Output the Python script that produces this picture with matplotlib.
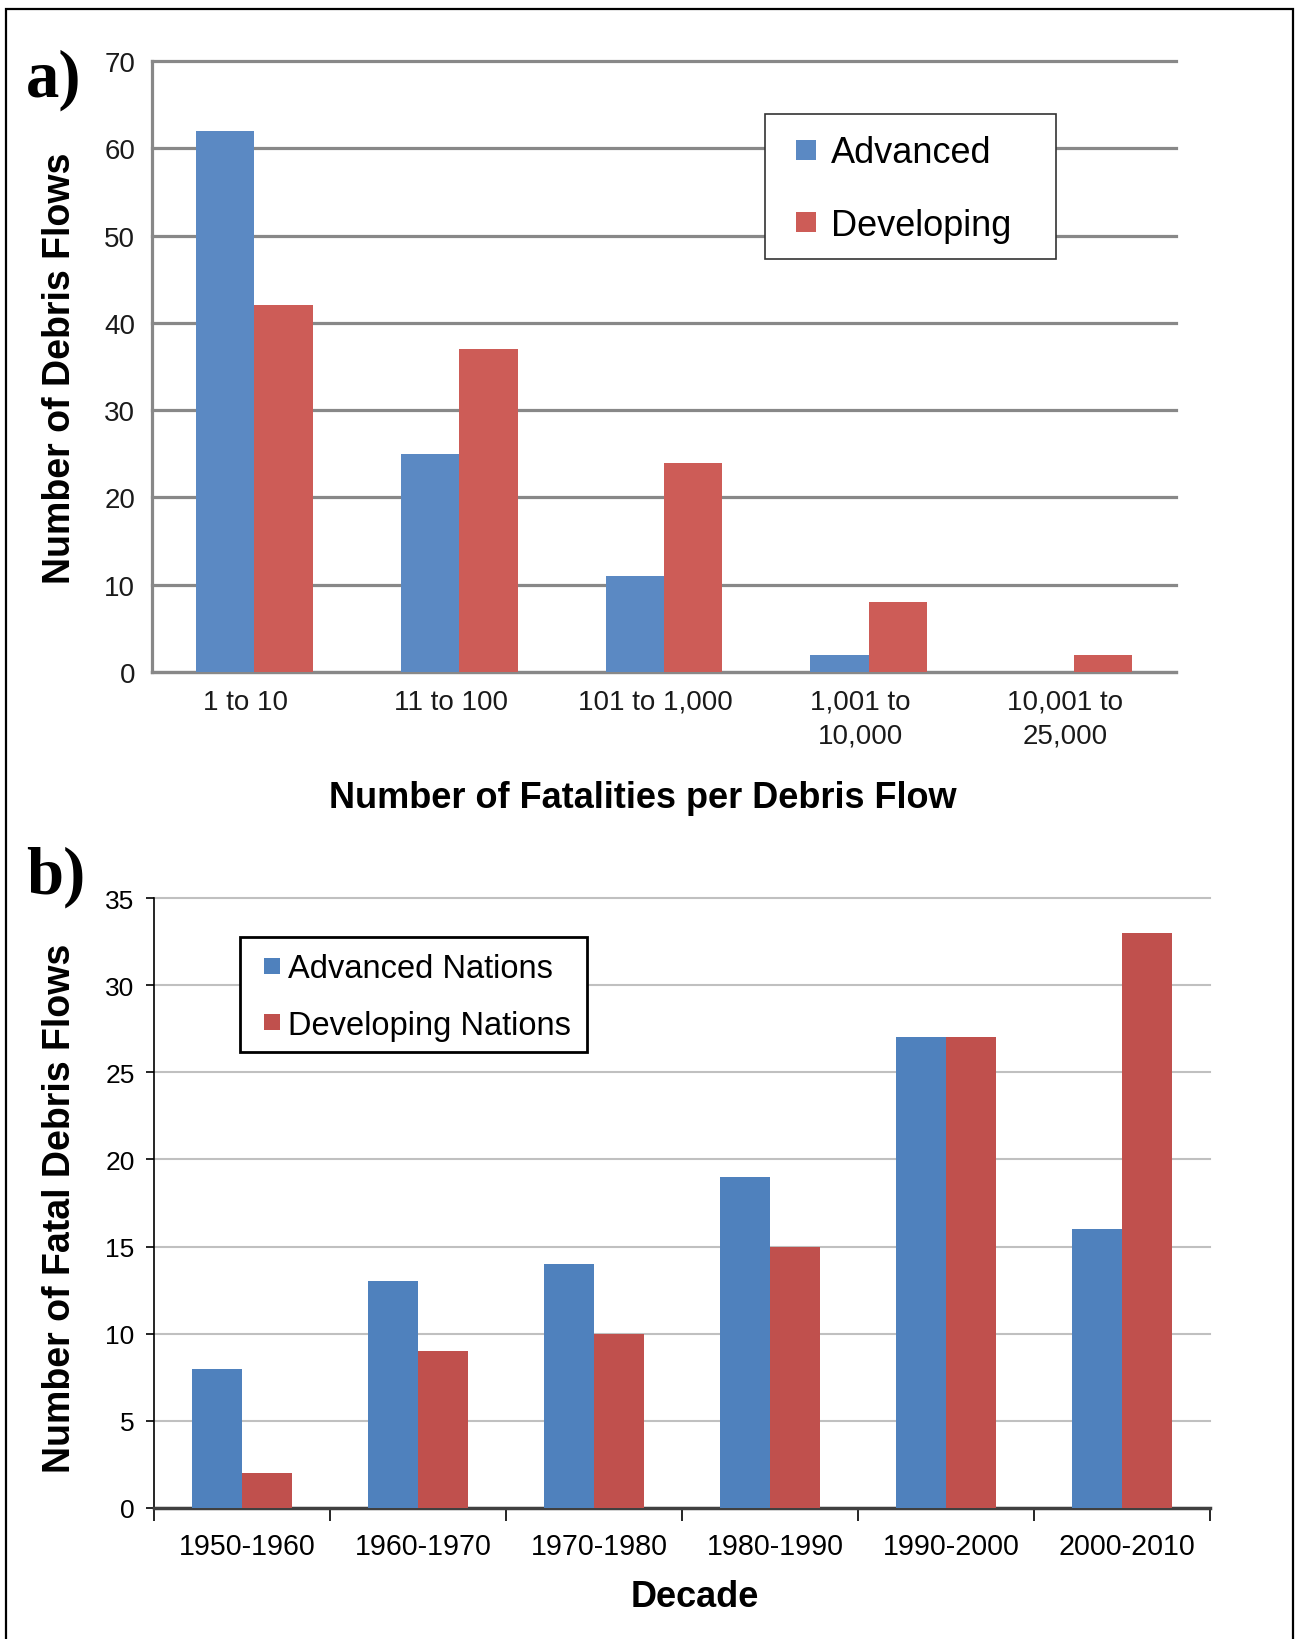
import matplotlib
matplotlib.use('Agg')
import matplotlib.pyplot as plt
import matplotlib.transforms as mtransforms
from matplotlib.patches import Rectangle
from matplotlib.lines import Line2D
import numpy as np

plt.rcParams['font.family'] = ['Liberation Sans', 'DejaVu Sans']

# ---------------- data ----------------
cats_a = ['1 to 10', '11 to 100', '101 to 1,000', '1,001 to\n10,000', '10,001 to\n25,000']
advanced_a = [62, 25, 11, 2, 0]
developing_a = [42, 37, 24, 8, 2]
yticks_a = [0, 10, 20, 30, 40, 50, 60, 70]

cats_b = ['1950-1960', '1960-1970', '1970-1980', '1980-1990', '1990-2000', '2000-2010']
advanced_b = [8, 13, 14, 19, 27, 16]
developing_b = [2, 9, 10, 15, 27, 33]
yticks_b = [0, 5, 10, 15, 20, 25, 30, 35]

# ---------------- layout helpers ----------------
W, H = 1301, 1640
fig = plt.figure(figsize=(W / 100, H / 100), dpi=100)


def fx(px):
    return px / W


def fy(py):
    return 1 - py / H


blue_a, red_a = '#5b89c3', '#cd5c57'
blue_b, red_b = '#4f81bd', '#c0504d'
bw = 0.285

# ---------------- panel a ----------------
a_l, a_r, a_t, a_b = 152, 1176, 62, 673
axa = fig.add_axes([fx(a_l), fy(a_b), (a_r - a_l) / W, (a_b - a_t) / H])
xa = np.arange(len(cats_a))
axa.bar(xa - bw / 2, advanced_a, bw, color=blue_a, zorder=3)
axa.bar(xa + bw / 2, developing_a, bw, color=red_a, zorder=3)
axa.set_xlim(-0.5, len(cats_a) - 0.5)
axa.set_ylim(0, 70)
axa.set_yticks(yticks_a)
axa.set_xticks(xa)
axa.set_xticklabels(cats_a, linespacing=1.38)
axa.set_axisbelow(True)
axa.yaxis.grid(True, color='#888888', lw=2.3)
for gl in axa.get_ygridlines():
    gl.set_clip_on(False)
for s in ['top', 'right']:
    axa.spines[s].set_visible(False)
for s in ['left', 'bottom']:
    axa.spines[s].set_color('#888888')
    axa.spines[s].set_linewidth(2.3)
axa.tick_params(axis='both', length=0, labelsize=20, colors='#1a1a1a')
axa.tick_params(axis='y', pad=12)
axa.tick_params(axis='x', pad=12)
shift_a = mtransforms.ScaledTranslation(-0.085, 0, fig.dpi_scale_trans)
for lab in axa.get_xticklabels():
    lab.set_transform(lab.get_transform() + shift_a)
axa.set_xlabel('Number of Fatalities per Debris Flow', fontsize=26, fontweight='bold')
axa.xaxis.set_label_coords((643 - a_l) / (a_r - a_l), (a_b - 808) / (a_b - a_t))
axa.xaxis.label.set_va('baseline')
axa.set_ylabel('Number of Debris Flows', fontsize=27, fontweight='bold')
axa.yaxis.set_label_coords((60 - a_l) / (a_r - a_l), (a_b - 368) / (a_b - a_t))
axa.yaxis.label.set_va('center')

# legend a
box_a = Rectangle((fx(765), fy(260)), fx(1056) - fx(765), fy(115) - fy(260),
                  transform=fig.transFigure, facecolor='white', edgecolor='#333333',
                  lw=1.2, zorder=4, clip_on=False)
axa.add_patch(box_a)
ha = [Line2D([], [], marker='s', ls='none', markersize=13.7, markerfacecolor=blue_a, markeredgewidth=0),
      Line2D([], [], marker='s', ls='none', markersize=13.7, markerfacecolor=red_a, markeredgewidth=0)]
lega = axa.legend(ha, ['Advanced', 'Developing'], loc='center left',
                  bbox_to_anchor=(fx(795), fy(190)), bbox_transform=fig.transFigure,
                  borderpad=0, borderaxespad=0, frameon=False, handlelength=0.6,
                  handletextpad=0.4, labelspacing=1.04, fontsize=26)
lega.set_zorder(5)

# ---------------- panel b ----------------
b_l, b_r, b_t, b_b = 154, 1210, 899, 1509
axb = fig.add_axes([fx(b_l), fy(b_b), (b_r - b_l) / W, (b_b - b_t) / H])
xb = np.arange(len(cats_b))
axb.bar(xb - bw / 2, advanced_b, bw, color=blue_b, zorder=3)
axb.bar(xb + bw / 2, developing_b, bw, color=red_b, zorder=3)
axb.set_xlim(-0.5, len(cats_b) - 0.5)
axb.set_ylim(0, 35)
axb.set_yticks(yticks_b)
axb.set_xticks(xb)
axb.set_xticklabels(cats_b)
axb.set_xticks(np.arange(len(cats_b) + 1) - 0.5, minor=True)
axb.set_axisbelow(True)
axb.yaxis.grid(True, color='#c0c0c0', lw=1.5)
for gl in axb.get_ygridlines():
    gl.set_clip_on(False)
for s in ['top', 'right']:
    axb.spines[s].set_visible(False)
axb.spines['left'].set_color('black')
axb.spines['left'].set_linewidth(1.2)
axb.spines['bottom'].set_color('#404040')
axb.spines['bottom'].set_linewidth(2.5)
axb.tick_params(axis='y', length=6, width=1.2, direction='out', labelsize=19, pad=8, colors='black')
axb.tick_params(axis='x', which='major', length=0, labelsize=20.6, pad=17)
axb.tick_params(axis='x', which='minor', length=9, width=1.2, direction='out', color='black')
shift_b = mtransforms.ScaledTranslation(0.05, 0, fig.dpi_scale_trans)
for lab in axb.get_xticklabels():
    lab.set_transform(lab.get_transform() + shift_b)
axb.set_xlabel('Decade', fontsize=26, fontweight='bold')
axb.xaxis.set_label_coords((695 - b_l) / (b_r - b_l), (b_b - 1607) / (b_b - b_t))
axb.xaxis.label.set_va('baseline')
axb.set_ylabel('Number of Fatal Debris Flows', fontsize=27, fontweight='bold')
axb.yaxis.set_label_coords((60 - b_l) / (b_r - b_l), (b_b - 1208) / (b_b - b_t))
axb.yaxis.label.set_va('center')

box_b = Rectangle((fx(240.5), fy(1053)), fx(586.7) - fx(240.5), fy(938) - fy(1053),
                  transform=fig.transFigure, facecolor='white', edgecolor='black',
                  lw=2.0, zorder=4, clip_on=False)
axb.add_patch(box_b)
hb = [Line2D([], [], marker='s', ls='none', markersize=12, markerfacecolor=blue_b, markeredgewidth=0),
      Line2D([], [], marker='s', ls='none', markersize=12, markerfacecolor=red_b, markeredgewidth=0)]
legb = axb.legend(hb, ['Advanced Nations', 'Developing Nations'], loc='center left',
                  bbox_to_anchor=(fx(262), fy(998)), bbox_transform=fig.transFigure,
                  borderpad=0, borderaxespad=0, frameon=False, handlelength=0.6,
                  handletextpad=0.2, labelspacing=0.77, fontsize=23.5)
legb.set_zorder(5)

# ---------------- panel letters and frame ----------------
fig.text(fx(26), fy(97), 'a)', fontsize=48, fontweight='bold',
         family=['Liberation Serif', 'DejaVu Serif'], ha='left', va='baseline')
fig.text(fx(26), fy(894), 'b)', fontsize=48, fontweight='bold',
         family=['Liberation Serif', 'DejaVu Serif'], ha='left', va='baseline')

frame = Rectangle((fx(6), -0.01), fx(1293) - fx(6), fy(10) + 0.01,
                  transform=fig.transFigure, fill=False, edgecolor='black', lw=1.6)
fig.add_artist(frame)

fig.savefig('out.png', dpi=100)
